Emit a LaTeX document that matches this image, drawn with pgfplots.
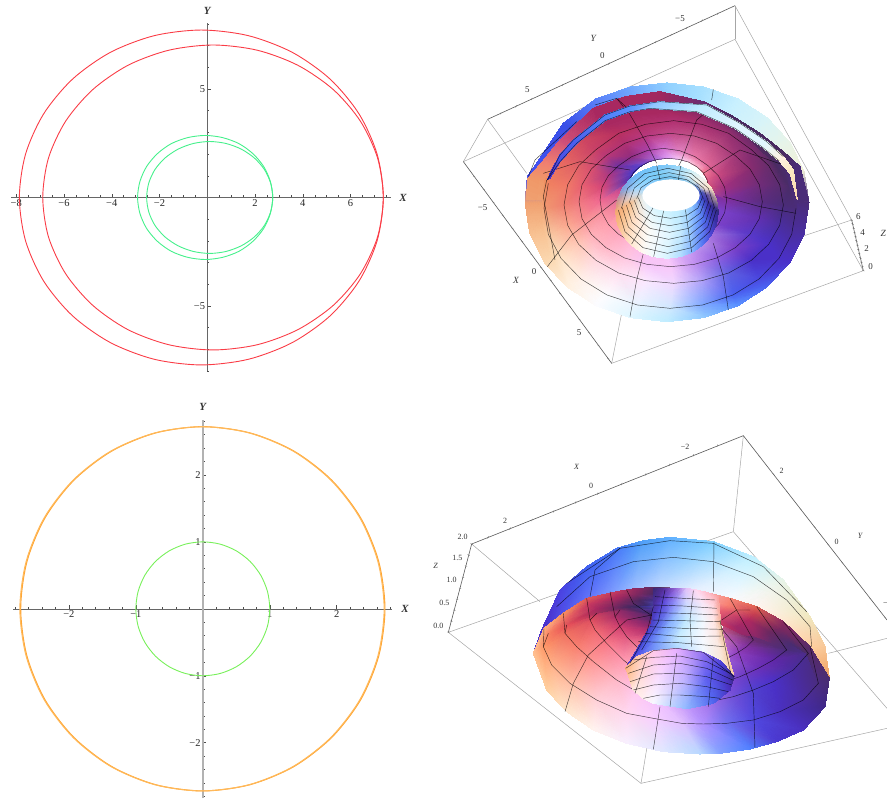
\documentclass[border=0pt]{standalone}
\usepackage{pgfplots}
\usepackage{pgfplotstable}
\pgfplotsset{compat=1.18}
\usepackage{fontspec}
\setmainfont{Liberation Serif}
\pgfplotsset{
  flat2d/.style={scale only axis,axis lines=center,anchor=south west,clip=false,
    tick align=inside,major tick length=3.5bp,minor tick length=2bp,
    tick style={black!70,line width=.5bp},
    axis line style={-,black!60,line width=.6bp},
    tick label style={font=\fontsize{10.5}{11}\selectfont,black!85,inner sep=2bp}},
  p3/.style={scale only axis,hide axis,view={0}{90},y dir=reverse,zmin=-1,zmax=1,anchor=south west,clip=true},
  gridl/.style={black,opacity=.72,line width=.45bp},
  boxg/.style={black!35,line width=.5bp},
  boxd/.style={black!65,line width=.6bp},
}
\newcommand\sfc[3]{\addplot3[surf,shader=interp,mesh/color input=explicit,mesh/rows=#1,mesh/cols=#2] table[x=x,y=y,z expr=0,meta=c]{#3};}
\newcommand\ringl[3]{\addplot3[gridl,skip coords between index={0}{#2},skip coords between index={#3}{9999}] table[x=x,y=y,z expr=0]{#1};}
\newcommand\gl[2][gridl]{\addplot3[#1] table[x index=0,y index=1,z expr=0,row sep=\\,header=false]{#2};}
\newcommand\tk[2]{\addplot3[only marks,mark=|,mark size=1.2bp,mark options={black!55,line width=.4bp,rotate=#1}] table[x index=0,y index=1,z expr=0,row sep=\\,header=false]{#2};}
\newcommand\lab[4][\fontsize{9}{10}\selectfont]{\node[font=#1,black!80,inner sep=0pt] at (axis cs:#2,#3,0) {#4};}

% top right: outer sheet
\pgfplotstableread{
x y c
1107 607 HTML=4A2C78
1093 700 HTML=4A2EA0
1050 786 HTML=4A30C8
982 860 HTML=4A60F0
894 917 HTML=5A90FF
791 953 HTML=90C8FF
681 965 HTML=C0ECFF
571 953 HTML=E0F6FF
468 917 HTML=FCFCFF
380 860 HTML=FFF0E0
312 786 HTML=FBD8B0
269 700 HTML=F8C090
255 607 HTML=F0A070
262 530 HTML=4A50E8
300 475 HTML=4050F0
370 370 HTML=3A50E8
468 297 HTML=5A80F8
571 261 HTML=70A8FF
681 249 HTML=90D0FF
791 261 HTML=A8E0FF
894 297 HTML=C8F0FF
982 354 HTML=D8F4F8
1050 428 HTML=E8F4E8
1092 514 HTML=F0F0D8
1107 607 HTML=4A2C78
1021 607 HTML=4A2C78
1009 681 HTML=4A2EA0
975 750 HTML=4A30C8
921 809 HTML=4A60F0
851 855 HTML=5A90FF
769 883 HTML=90C8FF
681 893 HTML=C0ECFF
593 883 HTML=E0F6FF
511 855 HTML=FCFCFF
441 809 HTML=FFF0E0
387 750 HTML=FBD8B0
353 681 HTML=F8C090
341 607 HTML=F0A070
353 533 HTML=4A50E8
387 464 HTML=4050F0
441 405 HTML=3A50E8
511 359 HTML=5A80F8
593 331 HTML=70A8FF
681 321 HTML=90D0FF
769 331 HTML=A8E0FF
851 359 HTML=C8F0FF
921 405 HTML=D8F4F8
975 464 HTML=E8F4E8
1009 533 HTML=F0F0D8
1021 607 HTML=4A2C78
}\tA
% top right: second sheet, dark crescent
\pgfplotstableread{
x y c
258 600 HTML=F0A070
264 535 HTML=F09868
305 488 HTML=F08070
360 420 HTML=D05078
460 325 HTML=A82860
555 290 HTML=A82860
660 275 HTML=A02860
790 305 HTML=6A2C70
880 350 HTML=4A2A60
960 400 HTML=4A2A60
1030 455 HTML=4A2A60
1080 500 HTML=4A2C78
1105 600 HTML=4A2C78
400 600 HTML=F0A070
400 560 HTML=F09868
420 510 HTML=F08070
450 480 HTML=D05078
520 420 HTML=A82860
600 400 HTML=A82860
670 390 HTML=A02860
780 400 HTML=6A2C70
860 440 HTML=4A2A60
930 480 HTML=4A2A60
980 520 HTML=4A2A60
1020 550 HTML=4A2C78
1040 610 HTML=4A2C78
}\tB
% top right: thin blue strip
\pgfplotstableread{
x y c
322 540 HTML=4A50E8
335 510 HTML=4A30C8
360 465 HTML=4A50E8
400 420 HTML=4A60F0
495 345 HTML=5080F8
570 318 HTML=5A90FF
660 305 HTML=90C8FF
800 315 HTML=C0ECFF
900 370 HTML=E0F6FF
980 425 HTML=E0F6FF
1030 470 HTML=FFF0E0
1060 510 HTML=FBE8C0
1072 600 HTML=FBD8B0
322 540 HTML=4A50E8
330 535 HTML=4A30C8
360 485 HTML=4A50E8
410 430 HTML=4A60F0
495 362 HTML=5080F8
570 335 HTML=5A90FF
630 325 HTML=90C8FF
770 335 HTML=C0ECFF
885 385 HTML=E0F6FF
965 440 HTML=E0F6FF
1018 483 HTML=FFF0E0
1050 520 HTML=FBE8C0
1072 600 HTML=FBD8B0
}\tC
% top right: main surface, rings outside to inside
\pgfplotstableread{
x y c
1072 600 HTML=4A2C78
1088 700 HTML=4A2EA0
1047 785 HTML=4A30C8
980 858 HTML=4A60F0
892 915 HTML=5A90FF
790 951 HTML=90C8FF
681 963 HTML=C0ECFF
571 951 HTML=E0F6FF
468 915 HTML=FCFCFF
385 850 HTML=FFF0E0
335 770 HTML=FBD8B0
312 680 HTML=F8C090
306 600 HTML=F0A070
315 540 HTML=F09060
360 485 HTML=F08070
410 430 HTML=D05060
495 362 HTML=A82860
570 335 HTML=A82860
650 325 HTML=A02860
770 335 HTML=8A2A68
850 370 HTML=702A68
920 410 HTML=5A2A60
985 456 HTML=4A2A60
1035 503 HTML=4A2C6C
1072 600 HTML=4A2C78
1068 625 HTML=4A2C78
1055 703 HTML=4A2EA0
1017 775 HTML=4A30C8
957 837 HTML=4A48E0
879 885 HTML=4A60F0
788 915 HTML=80A8FF
690 925 HTML=D0E8FF
592 915 HTML=E8F4FF
501 885 HTML=FCFCFF
423 837 HTML=FFF0E8
363 775 HTML=FFE4C8
325 703 HTML=F8C8A0
312 625 HTML=F09870
325 550 HTML=F08060
363 480 HTML=E86860
423 420 HTML=D04860
501 374 HTML=A82860
592 345 HTML=A82860
690 335 HTML=A82860
788 345 HTML=902A68
879 380 HTML=782A68
957 425 HTML=602A64
1010 495 HTML=4A2A60
1048 560 HTML=4A2C68
1068 625 HTML=4A2C78
1030 615 HTML=4A2C78
1019 676 HTML=4A2EA0
986 733 HTML=4A30C8
934 781 HTML=4A30C8
866 819 HTML=6060E0
786 842 HTML=B0A0F8
701 850 HTML=F0D8FF
616 842 HTML=FBE8FF
536 819 HTML=FFE0F0
468 781 HTML=FFD8E0
416 733 HTML=FFC8B8
383 676 HTML=FBA890
372 615 HTML=F08070
383 554 HTML=F07868
416 497 HTML=E06068
468 449 HTML=C84068
536 400 HTML=B83060
616 373 HTML=B03068
701 362 HTML=B03070
786 373 HTML=A83070
866 400 HTML=983070
934 449 HTML=802C70
986 497 HTML=682C6C
1019 554 HTML=5A2C70
1030 615 HTML=4A2C78
967 605 HTML=5A2C80
958 656 HTML=6030B0
930 703 HTML=5838C8
886 743 HTML=7A40C8
830 774 HTML=9060E0
763 793 HTML=C090F0
692 800 HTML=F8C8FA
621 793 HTML=F8C8FA
554 774 HTML=FFC8E0
498 743 HTML=FFB8C8
454 703 HTML=FFB0B8
426 656 HTML=F89090
417 605 HTML=F07880
426 554 HTML=E86070
454 507 HTML=D85070
498 467 HTML=B83878
554 430 HTML=B03070
621 408 HTML=B83880
692 400 HTML=C04888
763 408 HTML=C05088
830 430 HTML=B84880
886 467 HTML=A03878
930 507 HTML=882C70
958 554 HTML=702C78
967 605 HTML=5A2C80
860 600 HTML=8030A0
854 638 HTML=7A40C8
835 673 HTML=7A40C8
804 703 HTML=A878E0
765 726 HTML=C8A0F0
719 740 HTML=E0B0F8
670 745 HTML=F8C8FA
621 740 HTML=F8C0F0
575 726 HTML=FFB8D8
536 703 HTML=FFA8C0
505 673 HTML=FFA0B0
486 638 HTML=F890A0
480 600 HTML=F06890
486 562 HTML=D84878
505 527 HTML=B03880
536 497 HTML=7030A0
575 470 HTML=902C80
621 452 HTML=A840A8
670 445 HTML=D070D0
719 452 HTML=E080C0
765 470 HTML=E878A8
804 497 HTML=E06898
835 527 HTML=C84880
854 562 HTML=A03080
860 600 HTML=8030A0
805 560 HTML=D05078
801 582 HTML=8030A0
789 603 HTML=7A40C8
770 620 HTML=C0A0F0
745 634 HTML=F8C8FA
716 642 HTML=F8C8FA
685 645 HTML=F8C8FA
654 642 HTML=F8C8FA
625 634 HTML=FFB0C8
600 620 HTML=FFB0C8
581 603 HTML=F89090
569 582 HTML=E06090
565 560 HTML=C04090
569 538 HTML=5030B0
581 517 HTML=4838C8
600 500 HTML=5040D0
625 486 HTML=8050D0
654 478 HTML=B070E0
685 475 HTML=E0A0F8
716 478 HTML=F8C8F8
745 486 HTML=FFD0E8
770 500 HTML=FFB8D0
789 517 HTML=F88098
801 538 HTML=E06088
805 560 HTML=D05078
}\tD
% top right: throat, lip to hole
\pgfplotstableread{
x y c
835 635 HTML=302880
830 671 HTML=382CA0
814 705 HTML=4A40D0
790 734 HTML=5070F0
758 756 HTML=80B0FF
721 770 HTML=B0DCFF
681 775 HTML=D8F4FF
641 770 HTML=F0FAFF
604 756 HTML=FFF8F0
572 734 HTML=FFE8D0
548 705 HTML=FBD0A8
532 671 HTML=F8B880
527 635 HTML=F4A870
532 599 HTML=C89090
548 565 HTML=80A0E0
572 536 HTML=70B0F0
604 514 HTML=70C0F8
641 500 HTML=70C0F8
681 495 HTML=80C8F8
721 500 HTML=A0DCFA
758 514 HTML=D0F0F8
790 536 HTML=F0F4F0
814 565 HTML=FFE8C8
830 599 HTML=B09890
835 635 HTML=302880
806 610 HTML=382CA0
802 634 HTML=4040C8
790 656 HTML=5070F0
771 675 HTML=70A0FF
747 690 HTML=A0D0FF
719 699 HTML=C8ECFF
688 702 HTML=E0F6FF
657 699 HTML=F0FAFF
629 690 HTML=FBFBF8
605 675 HTML=FFF0E4
586 656 HTML=FFE0C8
574 634 HTML=FAD0A8
570 610 HTML=F8C090
574 586 HTML=D8D8E0
586 564 HTML=A0D8FF
605 545 HTML=90D8FF
629 530 HTML=80D0FF
657 521 HTML=80D0F8
688 518 HTML=90D4F8
719 521 HTML=B0E0F8
747 530 HTML=D8F0F8
771 545 HTML=F0F0E8
790 564 HTML=F0E0D8
802 586 HTML=5848A0
806 610 HTML=382CA0
779 586 HTML=4050D0
776 598 HTML=4A70E8
767 610 HTML=70A8F8
754 620 HTML=90C8FF
736 628 HTML=B0E0FF
715 632 HTML=C0ECFF
693 634 HTML=C8F0FF
671 632 HTML=D0F4FF
650 628 HTML=D8F6FF
632 620 HTML=E0F6FF
619 610 HTML=E8F4F8
610 598 HTML=E8F0F0
607 586 HTML=D8E8F0
610 574 HTML=B8E0F8
619 562 HTML=A0D8FF
632 552 HTML=90D0FF
650 544 HTML=80C8F8
671 540 HTML=70C0F0
693 538 HTML=70BCE8
715 540 HTML=70BCE8
736 544 HTML=80C0E8
754 552 HTML=90C8E8
767 562 HTML=5080D0
776 574 HTML=4060C8
779 586 HTML=4050D0
}\tT
% bottom right: band above the cut
\pgfplotstableread{
x y c
340 700 HTML=4A30C8
365 630 HTML=4A30D0
420 510 HTML=4A40E0
500 440 HTML=4060F0
590 385 HTML=4878F8
670 362 HTML=50A0F8
750 352 HTML=60B0FF
880 365 HTML=80D0FF
1000 410 HTML=C0F0FF
1090 480 HTML=E8F4E8
1170 590 HTML=F0E8C0
1215 680 HTML=F8C898
1228 775 HTML=F0A060
340 700 HTML=4A30C8
372 625 HTML=4A30C8
430 580 HTML=5050E8
500 535 HTML=6070F8
590 515 HTML=80A0FF
650 505 HTML=A0C0FF
720 502 HTML=C0D8FF
830 510 HTML=E8F0FF
930 535 HTML=F8FAFF
1010 560 HTML=FFF4F0
1090 605 HTML=FFE8D0
1170 680 HTML=FFD0A0
1228 775 HTML=F8A868
}\uB
% bottom right: main surface
\pgfplotstableread{
x y c
1228 775 HTML=4A2C70
1215 860 HTML=402888
1150 930 HTML=4A30C0
1070 965 HTML=4A38D0
990 987 HTML=5080FF
900 1000 HTML=80A0FF
840 1002 HTML=B8D8FF
730 995 HTML=E0E8FF
620 970 HTML=F8F0FF
520 930 HTML=FFF4F0
440 875 HTML=FFE8D0
380 810 HTML=FFD0A0
340 700 HTML=FFC090
372 625 HTML=FFB080
430 580 HTML=F89060
500 535 HTML=E05858
590 515 HTML=C03860
650 505 HTML=902860
720 502 HTML=4A2A60
830 510 HTML=F8C0D0
930 535 HTML=F88878
1010 560 HTML=E06050
1090 605 HTML=8A2860
1170 680 HTML=5A2A68
1228 775 HTML=4A2C70
1195 790 HTML=4A2C80
1150 840 HTML=4A2CA0
1080 875 HTML=4A30C0
1000 900 HTML=5048E0
920 910 HTML=7070F0
850 912 HTML=B090FF
785 910 HTML=E0C0FF
700 895 HTML=F8D0FF
620 880 HTML=FFD8F0
530 840 HTML=FFD0D8
450 790 HTML=FFC0A8
395 735 HTML=FFB088
370 680 HTML=FF9868
385 640 HTML=F88060
440 597 HTML=E86060
505 552 HTML=C83860
590 532 HTML=A82860
650 522 HTML=802860
720 520 HTML=3A2A60
830 530 HTML=FFC0D0
925 555 HTML=F88070
1005 580 HTML=C84050
1085 625 HTML=7A2860
1160 700 HTML=4A2C68
1195 790 HTML=4A2C80
1165 700 HTML=4A2C88
1120 750 HTML=4A2CA0
1060 785 HTML=4A30C8
1000 810 HTML=5040D0
940 830 HTML=7050D8
870 845 HTML=A070E8
790 850 HTML=C898F8
720 845 HTML=F0C0FF
650 815 HTML=FFC8F0
590 780 HTML=FFB8C8
520 725 HTML=FF9898
470 680 HTML=F88070
435 640 HTML=F07060
440 615 HTML=E85058
480 590 HTML=C83858
530 565 HTML=A82860
600 548 HTML=7A2860
660 540 HTML=4A2860
720 538 HTML=3A3090
820 548 HTML=F8B0C0
910 570 HTML=E86070
985 600 HTML=B02860
1050 635 HTML=6A2860
1110 670 HTML=4A2C70
1165 700 HTML=4A2C88
1100 690 HTML=4A2C78
1060 720 HTML=6028A8
1015 745 HTML=6A30B8
960 770 HTML=7040C8
900 790 HTML=9050D8
840 800 HTML=B878E8
780 800 HTML=D8A8F8
720 790 HTML=F8C0FF
660 760 HTML=FFB8E0
610 720 HTML=FF98B0
560 670 HTML=F87888
525 630 HTML=F06870
510 600 HTML=E05060
530 580 HTML=C83860
560 570 HTML=A02860
600 565 HTML=6A2860
640 560 HTML=3A2860
680 555 HTML=3A2A70
730 555 HTML=4A50D0
810 565 HTML=F890A0
885 590 HTML=D84870
950 620 HTML=A02868
1010 650 HTML=8A2868
1060 670 HTML=5A2C70
1100 690 HTML=4A2C78
1000 660 HTML=6A2C70
980 680 HTML=8030A0
950 700 HTML=9040C0
910 720 HTML=A060D8
870 740 HTML=C080E8
820 750 HTML=D8A0F8
780 755 HTML=F0C0FF
730 745 HTML=FFC8F0
690 715 HTML=FFA8C8
650 680 HTML=F08098
620 650 HTML=E05880
600 620 HTML=D04070
585 590 HTML=B03068
600 570 HTML=902A68
625 565 HTML=5A2860
650 560 HTML=3A2A60
670 555 HTML=3A30A0
700 560 HTML=4A40D0
740 565 HTML=8080F0
810 575 HTML=F09098
870 600 HTML=D04870
920 620 HTML=C03060
960 640 HTML=9A2868
985 650 HTML=6A2C70
1000 660 HTML=6A2C70
910 620 HTML=C04878
906 638 HTML=C060A0
896 655 HTML=D080C0
879 670 HTML=E0A0E8
857 681 HTML=F0C0F8
832 688 HTML=F8D0FF
805 690 HTML=FFD8FF
778 688 HTML=FFD0F0
753 681 HTML=FFB0D0
731 670 HTML=F090A8
714 655 HTML=D85080
704 638 HTML=B03070
700 620 HTML=8A2870
704 602 HTML=5A2870
714 585 HTML=3A2870
731 570 HTML=4A3AC0
753 559 HTML=6A60E0
778 552 HTML=A0A0F0
805 550 HTML=E0E8FF
832 552 HTML=FFE0E0
857 559 HTML=FFC0C0
879 570 HTML=E05080
896 585 HTML=B02868
906 602 HTML=903068
910 620 HTML=C04878
}\uD
% bottom right: neck, bottom arc up to the top
\pgfplotstableread{
x y c
617 745 HTML=4A30D0
650 710 HTML=5050E8
700 692 HTML=7090F8
770 685 HTML=B0D8FF
850 697 HTML=F0F8FF
905 725 HTML=F8E8D8
942 770 HTML=F8C8A0
650 690 HTML=4038C8
680 665 HTML=5060E8
725 655 HTML=80A8FF
780 650 HTML=C8ECFF
850 655 HTML=F8FAFF
895 670 HTML=FBE8E0
920 690 HTML=F8D0B0
695 610 HTML=4840C8
725 605 HTML=6070E8
760 600 HTML=90B8FF
800 600 HTML=C0E8FF
850 600 HTML=F0F8FF
880 605 HTML=FFE8E8
903 620 HTML=F0C0A0
700 560 HTML=4A30A0
730 550 HTML=5A48D8
765 550 HTML=9090F8
800 550 HTML=D0D8FF
850 552 HTML=F8E8F8
880 560 HTML=FFD8E0
900 585 HTML=F8B0A0
700 505 HTML=3A2870
735 505 HTML=5A30A0
770 505 HTML=9868D8
800 505 HTML=E0C0F8
830 510 HTML=FFD8F0
860 517 HTML=FFC0D0
895 530 HTML=F8A0A0
}\uN
% bottom right: inside of the lower lip
\pgfplotstableread{
x y c
617 745 HTML=FFB080
650 710 HTML=FFC8A8
700 692 HTML=FFC8E8
770 685 HTML=E8B0FF
850 697 HTML=9070F0
905 725 HTML=4A40D8
942 770 HTML=3A2880
628 775 HTML=FFC8A0
665 760 HTML=FFD8D8
720 760 HTML=F8D8FF
795 775 HTML=C0B0FF
860 775 HTML=6060F0
915 770 HTML=4A38C8
942 770 HTML=3A2880
640 810 HTML=FFE8E0
670 835 HTML=FFF0F0
700 850 HTML=F8F8FF
800 866 HTML=90B8FF
880 850 HTML=5068F0
930 810 HTML=4A30C0
942 770 HTML=3A2880
}\uL

\begin{document}
\begin{tikzpicture}
\path (0,0) rectangle (887bp,802bp);

% top left
\begin{axis}[flat2d,at={(11bp,431bp)},width=379.7bp,height=347.7bp,
  xmin=-8.22,xmax=7.68,ymin=-8,ymax=8.03,
  xtick={-8,-6,-4,-2,2,4,6},xticklabels={−8,−6,−4,−2,2,4,6},
  ytick={-5,5},yticklabels={−5,5},
  minor xtick={-8,-7.5,...,7.5},minor ytick={-8,-7,...,8}]
\addplot[color={rgb,255:red,250;green,60;blue,70},line width=.9bp,smooth cycle] coordinates {(7.37,0)(7.11,2)(6.35,3.86)(5.14,5.46)(3.56,6.69)(1.72,7.46)(-.25,7.72)(-2.22,7.46)(-4.06,6.69)(-5.64,5.46)(-6.85,3.86)(-7.61,2)(-7.87,0)(-7.61,-2)(-6.85,-3.86)(-5.64,-5.46)(-4.06,-6.69)(-2.22,-7.46)(-.25,-7.72)(1.72,-7.46)(3.56,-6.69)(5.14,-5.46)(6.35,-3.86)(7.11,-2)};
\addplot[color={rgb,255:red,250;green,60;blue,70},line width=.9bp,smooth cycle] coordinates {(7.37,0)(7.13,1.82)(6.41,3.52)(5.28,4.97)(3.8,6.09)(2.09,6.79)(.24,7.03)(-1.61,6.79)(-3.33,6.09)(-4.8,4.97)(-5.93,3.52)(-6.65,1.82)(-6.89,0)(-6.65,-1.82)(-5.93,-3.52)(-4.8,-4.97)(-3.33,-6.09)(-1.61,-6.79)(.24,-7.03)(2.09,-6.79)(3.8,-6.09)(5.28,-4.97)(6.41,-3.52)(7.13,-1.82)};
\addplot[color={rgb,255:red,70;green,240;blue,140},line width=.9bp,smooth cycle] coordinates {(2.74,0)(2.64,.74)(2.36,1.43)(1.91,2.02)(1.33,2.48)(.64,2.76)(-.09,2.86)(-.82,2.76)(-1.51,2.48)(-2.09,2.02)(-2.54,1.43)(-2.82,.74)(-2.92,0)(-2.82,-.74)(-2.54,-1.43)(-2.09,-2.02)(-1.51,-2.48)(-.82,-2.76)(-.09,-2.86)(.64,-2.76)(1.33,-2.48)(1.91,-2.02)(2.36,-1.43)(2.64,-.74)};
\addplot[color={rgb,255:red,70;green,240;blue,140},line width=.9bp,smooth cycle] coordinates {(2.74,0)(2.65,.67)(2.39,1.29)(1.97,1.82)(1.42,2.23)(.78,2.49)(.1,2.58)(-.58,2.49)(-1.22,2.23)(-1.77,1.82)(-2.19,1.29)(-2.45,.67)(-2.54,0)(-2.45,-.67)(-2.19,-1.29)(-1.77,-1.82)(-1.22,-2.23)(-.58,-2.49)(.1,-2.58)(.78,-2.49)(1.42,-2.23)(1.97,-1.82)(2.39,-1.29)(2.65,-.67)};
\node[font=\fontsize{11}{12}\selectfont\bfseries\itshape,black!80] at (axis cs:8.2,0) {X};
\node[font=\fontsize{11}{12}\selectfont\bfseries\itshape,black!80] at (axis cs:0,8.6) {Y};
\end{axis}

% bottom left
\begin{axis}[flat2d,at={(13.3bp,3.7bp)},width=379bp,height=378.3bp,
  xmin=-2.83,xmax=2.83,ymin=-2.83,ymax=2.82,
  xtick={-2,-1,1,2},xticklabels={−2,−1,1,2},
  ytick={-2,-1,1,2},yticklabels={−2,−1,1,2},
  minor xtick={-2.8,-2.6,...,2.8},minor ytick={-2.8,-2.6,...,2.8},
  y axis line style={-,black!30,line width=1.8bp}]
\addplot[color={rgb,255:red,255;green,165;blue,50},line width=1.1bp,smooth cycle] coordinates {(2.72,0)(2.627,.704)(2.356,1.36)(1.923,1.923)(1.36,2.356)(.704,2.627)(0,2.72)(-.704,2.627)(-1.36,2.356)(-1.923,1.923)(-2.356,1.36)(-2.627,.704)(-2.72,0)(-2.627,-.704)(-2.356,-1.36)(-1.923,-1.923)(-1.36,-2.356)(-.704,-2.627)(0,-2.72)(.704,-2.627)(1.36,-2.356)(1.923,-1.923)(2.356,-1.36)(2.627,-.704)};
\addplot[color={rgb,255:red,255;green,185;blue,90},line width=1bp,smooth cycle] coordinates {(2.708,0)(2.615,.704)(2.344,1.36)(1.911,1.923)(1.348,2.356)(.692,2.627)(-.012,2.72)(-.716,2.627)(-1.372,2.356)(-1.935,1.923)(-2.368,1.36)(-2.639,.704)(-2.732,0)(-2.639,-.704)(-2.368,-1.36)(-1.935,-1.923)(-1.372,-2.356)(-.716,-2.627)(-.012,-2.72)(.692,-2.627)(1.348,-2.356)(1.911,-1.923)(2.344,-1.36)(2.615,-.704)};
\addplot[color={rgb,255:red,120;green,240;blue,90},line width=.9bp,smooth cycle] coordinates {(1,0)(.966,.259)(.866,.5)(.707,.707)(.5,.866)(.259,.966)(0,1)(-.259,.966)(-.5,.866)(-.707,.707)(-.866,.5)(-.966,.259)(-1,0)(-.966,-.259)(-.866,-.5)(-.707,-.707)(-.5,-.866)(-.259,-.966)(0,-1)(.259,-.966)(.5,-.866)(.707,-.707)(.866,-.5)(.966,-.259)};
\node[font=\fontsize{11}{12}\selectfont\bfseries\itshape,black!80] at (axis cs:3.02,0) {X};
\node[font=\fontsize{11}{12}\selectfont\bfseries\itshape,black!80] at (axis cs:0,3.02) {Y};
\end{axis}

% top right, coordinates in 1/3 pixel
\begin{axis}[p3,at={(440bp,422bp)},width=447bp,height=380bp,xmin=0,xmax=1341,ymin=0,ymax=1140]
\gl[boxg]{885 17\\885 118\\}
\gl[boxg]{885 17\\1235 660\\}
\gl[boxg]{885 118\\1270 812\\}
\gl[boxg]{143 358\\70 485\\}
\gl[boxg]{70 485\\885 118\\}
\gl[boxg]{515 1090\\1270 812\\}
\gl[boxg]{515 1090\\545 940\\}
\gl[boxg]{143 358\\260 520\\}
\gl[boxg]{1090 708\\1235 660\\}
\gl[boxd]{143 358\\885 17\\}
\gl[boxd]{70 485\\515 1090\\}
\gl[boxd]{1235 660\\1270 812\\}
\tk{-30}{182 340\\228 319\\275 297\\321 276\\368 255\\414 233\\461 212\\507 191\\554 169\\600 148\\647 126\\693 105\\740 84\\786 62\\833 41\\}
\tk{60}{103 530\\131 568\\160 607\\189 647\\217 685\\246 724\\275 764\\304 803\\332 841\\361 881\\390 920\\418 958\\447 998\\476 1037\\505 1076\\}
\tk{70}{1270 812\\1267 799\\1264 787\\1261 774\\1258 761\\1255 749\\1252 736\\1249 723\\1247 710\\1244 698\\1241 685\\1238 672\\1235 660\\}
\sfc{2}{25}{\tA}
\sfc{2}{13}{\tB}
\sfc{6}{25}{\tD}
\ringl{\tD}{25}{39}
\ringl{\tD}{50}{75}
\ringl{\tD}{75}{100}
\ringl{\tD}{100}{125}
\ringl{\tD}{125}{150}
\gl{555 318\\620 430\\650 490\\}
\gl{800 335\\770 360\\725 480\\715 500\\}
\gl{1060 505\\900 450\\790 520\\}
\gl{1068 640\\960 620\\850 590\\}
\gl{865 930\\850 830\\820 730\\}
\gl{570 950\\590 840\\610 760\\}
\gl{322 800\\395 705\\530 600\\}
\gl{310 520\\420 485\\570 510\\}
\gl{345 780\\310 590\\320 540\\}
\gl{265 530\\285 480\\410 365\\}
\gl{465 315\\530 295\\555 318\\}
\gl{820 268\\815 300\\}
\gl{530 295\\550 320\\}
\sfc{3}{25}{\tT}
\gl{787 593\\774 624\\739 647\\691 655\\643 647\\608 624\\595 593\\}
\gl{795 601\\781 639\\742 667\\689 677\\636 667\\597 639\\583 601\\}
\gl{805 608\\789 652\\746 685\\688 697\\630 685\\587 652\\571 608\\}
\gl{813 615\\796 667\\750 704\\686 718\\622 704\\576 667\\559 615\\}
\gl{821 623\\803 681\\752 724\\684 740\\616 724\\565 681\\547 623\\}
\gl{829 630\\809 695\\755 743\\682 760\\609 743\\555 695\\535 630\\}
\gl{590 596\\603 563\\640 539\\690 530\\740 539\\777 563\\790 596\\}
\gl{567 610\\583 564\\627 530\\687 518\\747 530\\791 564\\807 610\\}
\gl{544 625\\563 565\\614 521\\684 505\\754 521\\805 565\\824 625\\}
\gl{641 770\\671 632\\}
\gl{755 756\\736 628\\}
\gl{575 732\\640 622\\}
\gl{650 495\\660 540\\}
\gl{722 498\\715 540\\}
\sfc{2}{13}{\tC}
\gl{322 540\\360 465\\400 420\\495 345\\570 318\\660 305\\800 315\\900 370\\980 425\\1030 470\\}
\gl{322 540\\360 485\\410 430\\495 362\\570 335\\630 325\\770 335\\885 385\\965 440\\1018 483\\}
\addplot3[draw=none,fill=white,skip coords between index={0}{50}] table[x=x,y=y,z expr=0]{\tT};
\lab{262}{270}{5}
\lab{487}{167}{0}
\lab{720}{55}{−5}
\lab{128}{622}{−5}
\lab{282}{815}{0}
\lab{417}{997}{5}
\lab{1255}{650}{6}
\lab{1268}{697}{4}
\lab{1280}{745}{2}
\lab{1292}{800}{0}
\lab[\fontsize{9.5}{10}\selectfont\itshape]{460}{115}{Y}
\lab[\fontsize{9.5}{10}\selectfont\itshape]{228}{842}{X}
\lab[\fontsize{9.5}{10}\selectfont\itshape]{1330}{700}{Z}
\end{axis}

% bottom right, coordinates in 1/3 pixel
\begin{axis}[p3,at={(420bp,0bp)},width=467bp,height=382bp,xmin=0,xmax=1401,ymin=0,ymax=1146]
\gl[boxg]{970 47\\940 335\\}
\gl[boxg]{85 637\\940 335\\}
\gl[boxg]{85 637\\663 1090\\}
\gl[boxg]{663 1090\\1401 925\\}
\gl[boxg]{663 1090\\682 975\\}
\gl[boxg]{155 372\\360 545\\}
\gl[boxg]{940 335\\1401 865\\}
\gl[boxg]{1225 700\\1401 655\\}
\gl[boxd]{155 372\\970 47\\}
\gl[boxd]{85 637\\155 372\\}
\gl[boxd]{970 47\\1401 600\\}
\tk{-20}{204 352\\270 326\\336 300\\401 274\\467 247\\533 221\\605 192\\677 163\\748 135\\820 106\\892 77\\}
\tk{70}{85 637\\94 604\\103 571\\111 538\\120 505\\129 472\\138 438\\146 405\\155 372\\}
\tk{45}{1018 109\\1060 162\\1101 215\\1142 268\\1184 321\\1225 374\\1267 428\\1308 481\\1350 535\\1395 592\\}
\sfc{2}{13}{\uB}
\sfc{6}{25}{\uD}
\ringl{\uD}{25}{39}
\ringl{\uD}{50}{64}
\ringl{\uD}{75}{89}
\ringl{\uD}{100}{114}
\gl{370 680\\372 625\\}
\gl{435 640\\430 580\\}
\gl{510 600\\500 535\\}
\gl{585 590\\570 515\\}
\gl{1195 790\\1170 680\\}
\gl{1165 700\\1090 605\\}
\gl{1100 690\\1010 560\\}
\gl{1000 660\\930 535\\}
\gl{620 510\\640 550\\700 590\\}
\gl{905 600\\950 570\\990 570\\}
\gl{435 875\\460 790\\505 705\\620 600\\695 585\\}
\gl{700 988\\720 860\\}
\gl{1005 985\\1000 820\\950 680\\900 620\\}
\gl{600 385\\525 450\\510 530\\}
\gl{882 365\\880 515\\}
\gl{410 560\\510 470\\640 425\\760 412\\880 425\\1000 470\\1100 540\\1170 620\\1175 680\\}
\gl{440 490\\600 385\\750 362\\880 370\\1030 440\\1160 575\\}
\sfc{5}{7}{\uN}
\sfc{3}{7}{\uL}
\gl{705 530\\790 535\\885 540\\}
\gl{700 555\\790 558\\890 565\\}
\gl{700 578\\790 580\\895 585\\}
\gl{697 600\\790 602\\900 605\\}
\gl{690 620\\790 625\\905 628\\}
\gl{675 640\\785 650\\905 648\\}
\gl{655 665\\775 668\\912 680\\}
\gl{640 720\\700 712\\780 708\\860 725\\930 760\\}
\gl{625 760\\700 735\\780 730\\860 745\\938 780\\}
\gl{630 785\\700 762\\780 760\\860 770\\935 795\\}
\gl{640 810\\700 795\\780 790\\860 800\\925 815\\}
\gl{670 835\\720 825\\780 825\\860 830\\900 835\\}
\gl{735 510\\715 605\\665 690\\}
\gl{820 512\\810 600\\815 680\\}
\gl{770 700\\750 860\\}
\gl{880 710\\865 860\\}
\gl{680 710\\645 820\\}
\gl{617 745\\700 692\\770 685\\850 697\\942 770\\}
\gl{900 600\\915 680\\932 760\\}
\gl{700 560\\680 640\\630 730\\}
\lab[\fontsize{8}{9}\selectfont]{795}{82}{−2}
\lab[\fontsize{8}{9}\selectfont]{513}{197}{0}
\lab[\fontsize{8}{9}\selectfont]{255}{302}{2}
\lab[\fontsize{8}{9}\selectfont]{128}{352}{2.0}
\lab[\fontsize{8}{9}\selectfont]{112}{414}{1.5}
\lab[\fontsize{8}{9}\selectfont]{95}{480}{1.0}
\lab[\fontsize{8}{9}\selectfont]{73}{548}{0.5}
\lab[\fontsize{8}{9}\selectfont]{55}{618}{0.0}
\lab[\fontsize{8}{9}\selectfont]{1085}{152}{2}
\lab[\fontsize{8}{9}\selectfont]{1250}{365}{0}
\lab[\fontsize{8}{9}\selectfont]{1396}{553}{−}
\lab[\fontsize{8}{9}\selectfont\itshape]{470}{142}{X}
\lab[\fontsize{8}{9}\selectfont\itshape]{1320}{347}{Y}
\lab[\fontsize{8}{9}\selectfont\itshape]{47}{437}{Z}
\end{axis}
\end{tikzpicture}
\end{document}
